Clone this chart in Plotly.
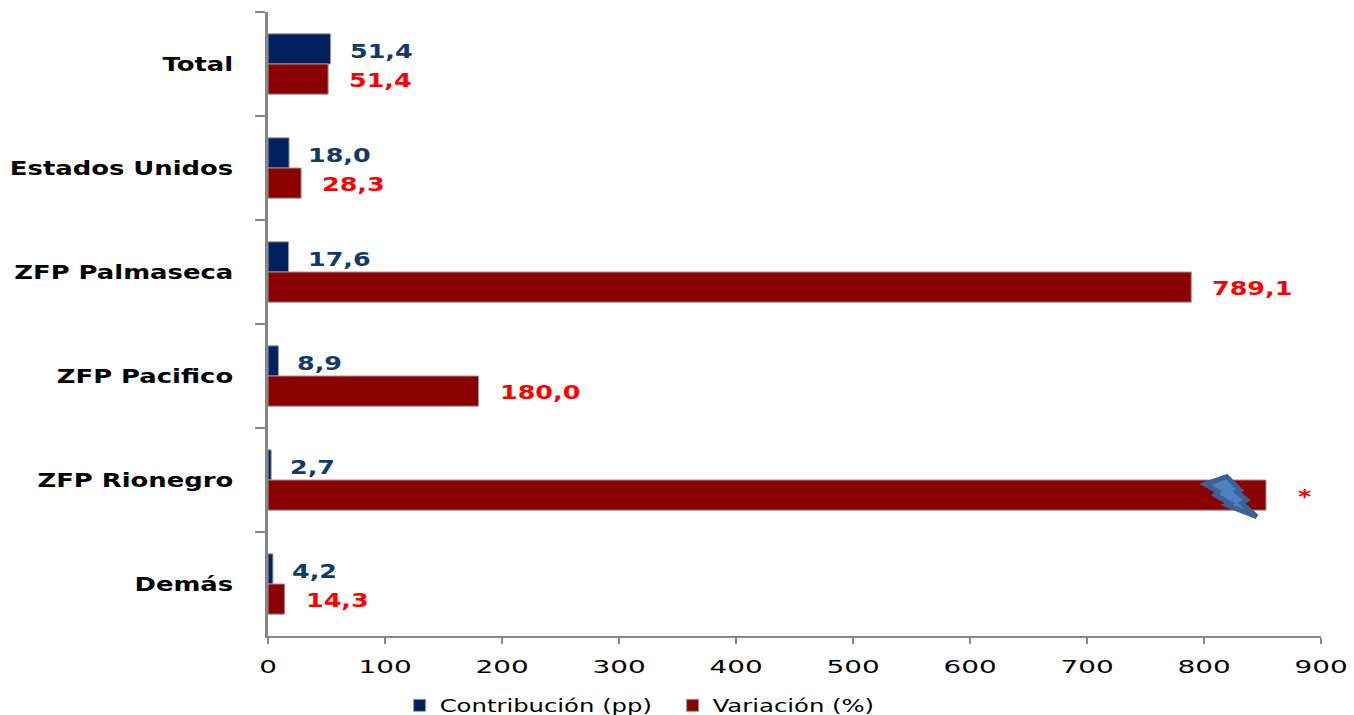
import plotly.graph_objects as go

categories = ["Total", "Estados Unidos", "ZFP Palmaseca", "ZFP Pacifico", "ZFP Rionegro", "Demás"]
contribucion = [53.5, 18.0, 17.6, 8.9, 2.7, 4.2]
variacion = [51.4, 28.3, 789.1, 180.0, 853.0, 14.3]
contribucion_labels = ["51,4", "18,0", "17,6", "8,9", "2,7", "4,2"]
variacion_labels = ["51,4", "28,3", "789,1", "180,0", "*", "14,3"]
x_ticks = [0, 100, 200, 300, 400, 500, 600, 700, 800, 900]

BLUE = "#002060"
RED = "#8b0000"
BLUE_TEXT = "#0f3a6b"
RED_TEXT = "#ff0000"
FONT = "DejaVu Sans"

fig = go.Figure()
fig.add_bar(name="Contribución (pp)", y=categories, x=contribucion, orientation="h",
            marker=dict(color=BLUE, line=dict(color="#9a9a9a", width=1)))
fig.add_bar(name="Variación (%)", y=categories, x=variacion, orientation="h",
            marker=dict(color=RED, line=dict(color="#9a9a9a", width=1)))

annotations = []
for cat, v, t in zip(categories, contribucion, contribucion_labels):
    annotations.append(dict(x=v, y=cat, text=t, showarrow=False, xanchor="left", align="left",
                            xshift=17, yshift=13,
                            font=dict(family=FONT, size=20, color=BLUE_TEXT, weight="bold")))
for cat, v, t in zip(categories, variacion, variacion_labels):
    annotations.append(dict(x=v, y=cat, text=t, showarrow=False, xanchor="left", align="left",
                            xshift=30 if t == "*" else 19, yshift=-16,
                            font=dict(family=FONT, size=20, color=RED_TEXT, weight="bold")))

# lightning-bolt decoration over the truncated Rionegro bar (x in axis units, y in paper units)
bolt_x = [819.4, 830.8, 828, 836.5, 832.3, 845, 819.4, 822.2, 809.4, 812.2, 800.9]
bolt_y = [0.2553, 0.234, 0.2313, 0.218, 0.2127, 0.1912, 0.21, 0.2127, 0.226, 0.2313, 0.2431]
bolt_path = "M " + " L ".join(f"{a},{b}" for a, b in zip(bolt_x, bolt_y)) + " Z"

fig.update_layout(
    width=1354, height=715, autosize=False,
    margin=dict(l=268, r=33, t=12, b=79, pad=0, autoexpand=False),
    paper_bgcolor="white", plot_bgcolor="white",
    barmode="group", bargap=0.42, bargroupgap=0,
    font=dict(family=FONT, color="black"),
    showlegend=True,
    legend=dict(orientation="h", xref="paper", yref="paper", x=0.125, xanchor="left",
                y=-0.083, yanchor="top", font=dict(family=FONT, size=17),
                traceorder="normal", itemwidth=30, entrywidth=228, entrywidthmode="pixels"),
    annotations=annotations,
    shapes=[dict(type="path", xref="x", yref="paper", path=bolt_path,
                 fillcolor="#4f81bd", line=dict(color="#3a6296", width=5), layer="above")],
    xaxis=dict(range=[0, 900], tickvals=x_ticks, ticks="outside", ticklen=6, tickwidth=2,
               tickcolor="#868686", showline=True, linecolor="#868686", linewidth=2,
               showgrid=False, zeroline=False, automargin=False, ticklabelstandoff=7,
               tickfont=dict(family=FONT, size=18, color="black")),
    yaxis=dict(categoryorder="array", categoryarray=categories, autorange="reversed",
               tickson="boundaries", ticks="outside", ticklen=10, tickwidth=2, tickcolor="#868686",
               showline=True, linecolor="#868686", linewidth=3, showgrid=False, zeroline=False,
               automargin=False, ticklabelstandoff=28,
               tickfont=dict(family=FONT, size=19, color="black", weight="bold")),
)

# The reference's text is stretched horizontally: widen glyphs without changing their height.
stretch_js = """
document.body.style.margin='0';
(function(){
  function widen(sel, k){
    document.querySelectorAll(sel).forEach(function(t){
      if(!t.dataset.natural){ t.dataset.natural = t.getComputedTextLength(); }
      t.setAttribute('lengthAdjust','spacingAndGlyphs');
      t.setAttribute('textLength', parseFloat(t.dataset.natural)*k);
    });
  }
  function run(){
    widen('.xtick text',1.55); widen('.ytick text',1.36);
    widen('.annotation-text',1.27); widen('.legendtext',1.43);
  }
  var gd=document.querySelector('.plotly-graph-div');
  run(); if(gd&&gd.on){gd.on('plotly_afterplot',run);} setTimeout(run,150);
})();
"""
fig.write_html("out.html", post_script=stretch_js, config={"displayModeBar": False})
